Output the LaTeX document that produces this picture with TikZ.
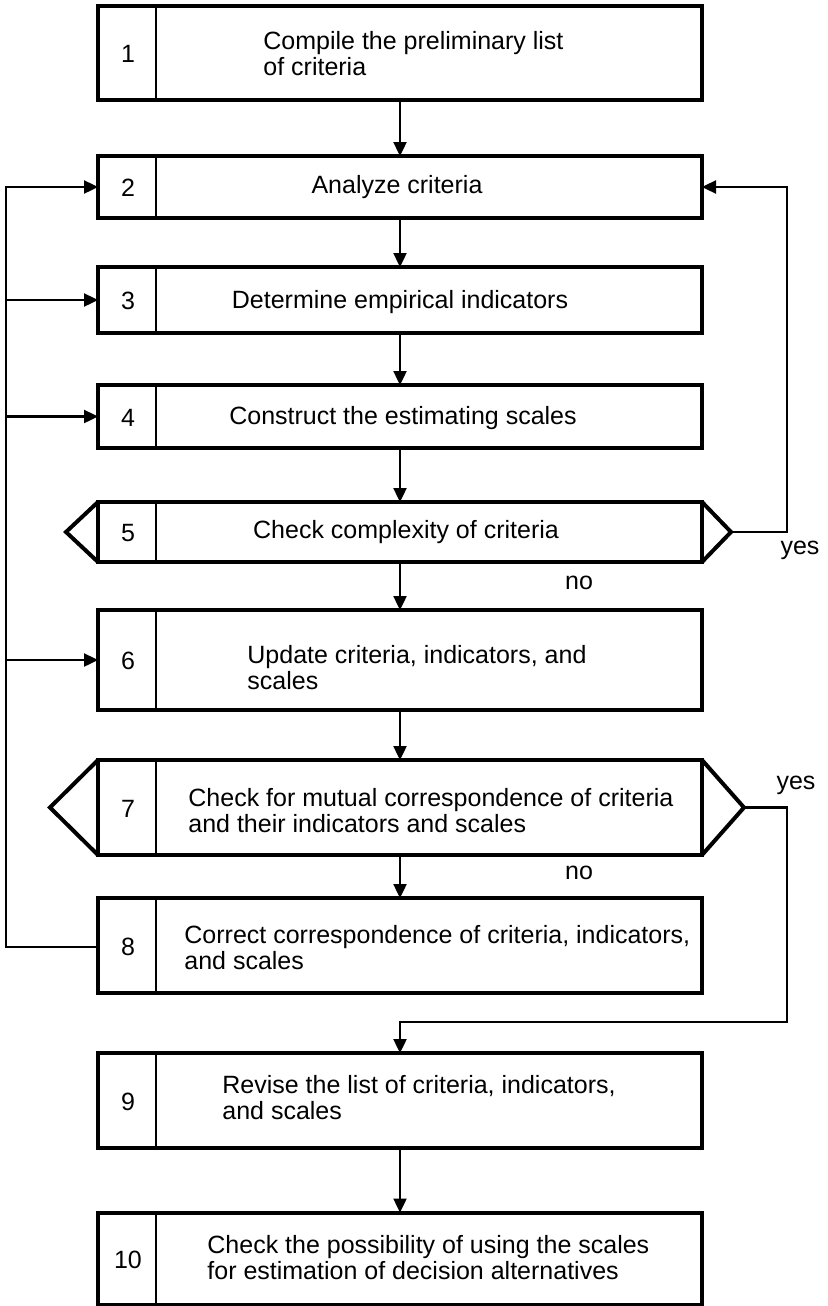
\documentclass[tikz,border=0pt]{standalone}
\usepackage{fontspec}
\setmainfont{Liberation Sans}
\usetikzlibrary{arrows.meta,calc}
\begin{document}
\begin{tikzpicture}[x=0.5pt,y=-0.5pt,
  box/.style={draw,line width=2pt,minimum width=302pt,inner sep=0pt,outer sep=0pt},
  num/.style={font=\fontsize{12.5}{13}\selectfont},
  txt/.style={font=\fontsize{12.5}{13}\selectfont,align=left,inner sep=0pt},
  ctxt/.style={font=\fontsize{12.5}{13}\selectfont,inner sep=0pt},
  lbl/.style={font=\fontsize{12.5}{13}\selectfont,inner sep=0pt},
  divl/.style={line width=1pt},
  tip/.style={line width=2pt,line join=miter},
  arr/.style={line width=1.2pt,-{Triangle[length=7pt,width=6.5pt]}}]
\useasboundingbox (0,0) rectangle (828,1306);
% boxes
\node[box,minimum height=47pt] (b1) at (400,53) {};
\node[box,minimum height=31pt] (b2) at (400,187) {};
\node[box,minimum height=33pt] (b3) at (400,300) {};
\node[box,minimum height=31.5pt] (b4) at (400,416.5) {};
\node[box,minimum height=30pt] (b5) at (400,532) {};
\node[box,minimum height=50pt] (b6) at (400,660) {};
\node[box,minimum height=47.5pt] (b7) at (400,807.5) {};
\node[box,minimum height=47.5pt] (b8) at (400,945.5) {};
\node[box,minimum height=47.5pt] (b9) at (400,1100.5) {};
\node[box,minimum height=46pt] (b10) at (400,1258.5) {};
% dividers and numbers
\foreach \b/\n in {b1/1,b2/2,b3/3,b4/4,b5/5,b6/6,b7/7,b8/8,b9/9,b10/10}{
  \draw[divl] ($(\b.north west)+(58,0)$) -- ($(\b.south west)+(58,0)$);
  \node[num] (n\b) at ($(\b.west)+(30,1)$) {\n};
}
% hexagon points
\coordinate (t5l) at ($(b5.west)+(-32,0)$);
\coordinate (t5r) at ($(b5.east)+(29,0)$);
\coordinate (t7l) at ($(b7.west)+(-48,0)$);
\coordinate (t7r) at ($(b7.east)+(42,0)$);
\draw[tip] (b5.north west) -- (t5l) -- (b5.south west);
\draw[tip] (b5.north east) -- (t5r) -- (b5.south east);
\draw[tip] (b7.north west) -- (t7l) -- (b7.south west);
\draw[tip] (b7.north east) -- (t7r) -- (b7.south east);
% texts
\node[txt,anchor=west] (x1) at (263,54) {Compile the preliminary list\\of criteria};
\node[ctxt] (x2) at (397,187) {Analyze criteria};
\node[ctxt] (x3) at (400,302) {Determine empirical indicators};
\node[ctxt] (x4) at (403,418) {Construct the estimating scales};
\node[ctxt] (x5) at (406,532) {Check complexity of criteria};
\node[txt,anchor=west] (x6) at (247,668) {Update criteria, indicators, and\\scales};
\node[txt,anchor=west] (x7) at (188,811) {Check for mutual correspondence of criteria\\and their indicators and scales};
\node[txt,anchor=west] (x8) at (184,948) {Correct correspondence of criteria, indicators,\\and scales};
\node[txt,anchor=west] (x9) at (222,1098) {Revise the list of criteria, indicators,\\and scales};
\node[txt,anchor=west] (x10) at (207,1258) {Check the possibility of using the scales\\for estimation of decision alternatives};
% labels
\node[lbl] (yes5) at (800,550) {yes};
\node[lbl] (no5) at (579,583) {no};
\node[lbl] (yes7) at (796,785) {yes};
\node[lbl] (no7) at (579,873) {no};
% main flow
\draw[arr] (b1.south) -- (b2.north);
\draw[arr] (b2.south) -- (b3.north);
\draw[arr] (b3.south) -- (b4.north);
\draw[arr] (b4.south) -- (b5.north);
\draw[arr] (b5.south) -- (b6.north);
\draw[arr] (b6.south) -- (b7.north);
\draw[arr] (b7.south) -- (b8.north);
\draw[arr] (b9.south) -- (b10.north);
% right loop from 5 to 2
\coordinate (r5) at (787,532);
\draw[arr] (t5r) -- (r5) |- (b2.east);
% left loop from 8
\coordinate (l8) at (6,947);
\draw[arr] (l8 -| b8.west) -- (l8) |- (b2.west);
\draw[arr] (l8 |- b3.west) -- (b3.west);
\draw[arr] (l8 |- b4.west) -- (b4.west);
\draw[arr] (l8 |- b6.west) -- (b6.west);
% yes from 7 to 9
\coordinate (r7) at (787,807.5);
\coordinate (j9) at (787,1022);
\draw[arr] (t7r) -- (r7) -- (j9) -| (b9.north);
\end{tikzpicture}
\end{document}
